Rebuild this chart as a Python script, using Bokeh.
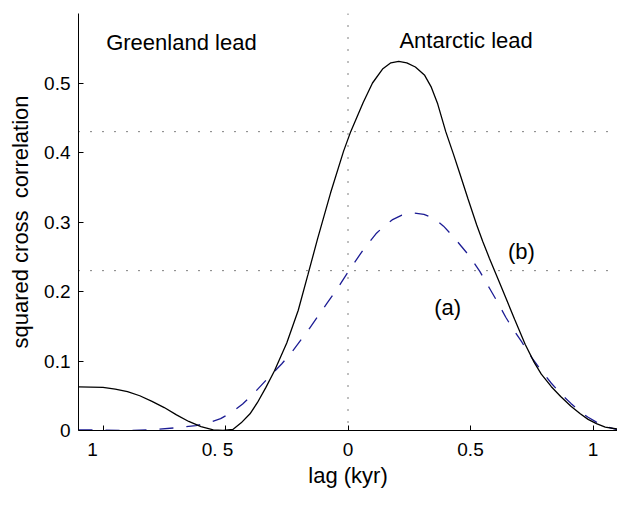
from bokeh.plotting import figure
from bokeh.models import Range1d, Span, FixedTicker, Label
from bokeh.embed import file_html
from bokeh.resources import INLINE

# Solid curve (b)
lag_b = [-1.1, -1.05, -1.0, -0.95, -0.9, -0.85, -0.8, -0.75, -0.7, -0.65, -0.6, -0.55,
         -0.51, -0.47, -0.436, -0.40, -0.37, -0.335, -0.30, -0.25, -0.203, -0.163,
         -0.124, -0.071, -0.018, 0.011, 0.062, 0.10, 0.141, 0.175, 0.207, 0.24, 0.275,
         0.313, 0.34, 0.366, 0.399, 0.43, 0.458, 0.49, 0.525, 0.55, 0.577, 0.617, 0.644,
         0.68, 0.723, 0.76, 0.789, 0.83, 0.868, 0.91, 0.948, 0.98, 1.014, 1.05, 1.1]
corr_b = [0.0628, 0.0625, 0.062, 0.0595, 0.056, 0.050, 0.042, 0.033, 0.0225, 0.013, 0.0055,
          0.001, 0.0, 0.0015, 0.011, 0.024, 0.040, 0.062, 0.086, 0.126, 0.173, 0.225,
          0.276, 0.342, 0.402, 0.430, 0.472, 0.500, 0.520, 0.529, 0.531, 0.529, 0.523,
          0.511, 0.494, 0.470, 0.430, 0.398, 0.368, 0.333, 0.296, 0.272, 0.248, 0.214, 0.191,
          0.160, 0.124, 0.098, 0.081, 0.063, 0.049, 0.035, 0.024, 0.016, 0.010, 0.005, 0.002]

# Dashed curve (a)
lag_a = [-1.1, -1.0, -0.9, -0.8, -0.7, -0.621, -0.569, -0.52, -0.475, -0.43, -0.383,
         -0.322, -0.27, -0.229, -0.157, -0.084, -0.04, 0.0, 0.062, 0.114, 0.141, 0.180,
         0.220, 0.267, 0.310, 0.352, 0.39, 0.432, 0.465, 0.498, 0.538, 0.577, 0.61, 0.644,
         0.675, 0.710, 0.75, 0.789, 0.83, 0.868, 0.91, 0.948, 0.98, 1.014, 1.05, 1.1]
corr_a = [0.001, 0.0005, 0.0, 0.001, 0.004, 0.007, 0.011, 0.017, 0.026, 0.038, 0.054,
          0.077, 0.096, 0.113, 0.147, 0.184, 0.206, 0.228, 0.260, 0.283, 0.292, 0.303,
          0.310, 0.313, 0.311, 0.305, 0.294, 0.278, 0.264, 0.250, 0.229, 0.205, 0.185, 0.163,
          0.145, 0.127, 0.105, 0.086, 0.068, 0.053, 0.039, 0.027, 0.019, 0.012, 0.006, 0.001]

x_ticks = [-1, -0.5, 0, 0.5, 1]
x_tick_labels = ["1\u00a0\u00a0\u00a0\u00a0", "0.\u00a05\u00a0\u00a0\u00a0", "0", "0.5", "1"]
y_ticks = [0, 0.1, 0.2, 0.3, 0.4, 0.5]
y_tick_labels = ["0", "0.1", "0.2", "0.3", "0.4", "0.5"]
thresholds = [0.43, 0.23]
zero_lag = 0

FONT = "Liberation Sans"

p = figure(width=617, height=490, output_backend="svg", toolbar_location=None,
           x_range=Range1d(-1.1, 1.1), y_range=Range1d(0, 0.6),
           min_border_left=78, min_border_right=0, min_border_top=13, min_border_bottom=50)
p.outline_line_color = None
p.xgrid.visible = False
p.ygrid.visible = False
p.background_fill_color = "white"
p.border_fill_color = "white"

for ax, ticks, labels in ((p.xaxis[0], x_ticks, x_tick_labels), (p.yaxis[0], y_ticks, y_tick_labels)):
    ax.ticker = FixedTicker(ticks=ticks)
    ax.major_label_overrides = {t: l for t, l in zip(ticks, labels)}
    ax.major_tick_in = 5
    ax.major_tick_out = 0
    ax.minor_tick_line_color = None
    ax.axis_line_color = "black"
    ax.major_tick_line_color = "black"
    ax.major_label_text_font = FONT
    ax.major_label_text_font_size = "19px"
    ax.major_label_text_color = "black"
    ax.axis_label_text_font = FONT
    ax.axis_label_text_font_size = "22px"
    ax.axis_label_text_font_style = "normal"
    ax.axis_label_text_color = "black"
    ax.major_label_standoff = 8

p.xaxis.axis_label = "lag (kyr)"
p.xaxis.axis_label_standoff = 0
p.yaxis.axis_label = "squared cross\u00a0 correlation"
p.yaxis.axis_label_standoff = 8

p.add_layout(Span(location=zero_lag, dimension="height", line_color="black",
                  line_dash="1 11", line_width=1))
for t in thresholds:
    p.add_layout(Span(location=t, dimension="width", line_color="black",
                      line_dash="1 11", line_width=1))

p.line(lag_a, corr_a, line_color="#1c1c94", line_width=1.3, line_dash="14 13")
p.line(lag_b, corr_b, line_color="black", line_width=1.3)

for txt, x, y in (("Greenland lead", -0.68, 0.558), ("Antarctic lead", 0.482, 0.561),
                  ("(b)", 0.708, 0.257), ("(a)", 0.407, 0.177)):
    p.add_layout(Label(x=x, y=y, text=txt, text_align="center", text_baseline="middle",
                       text_font=FONT, text_font_size="22px", text_color="black"))

open("out.html", "w").write(file_html(p, INLINE))
